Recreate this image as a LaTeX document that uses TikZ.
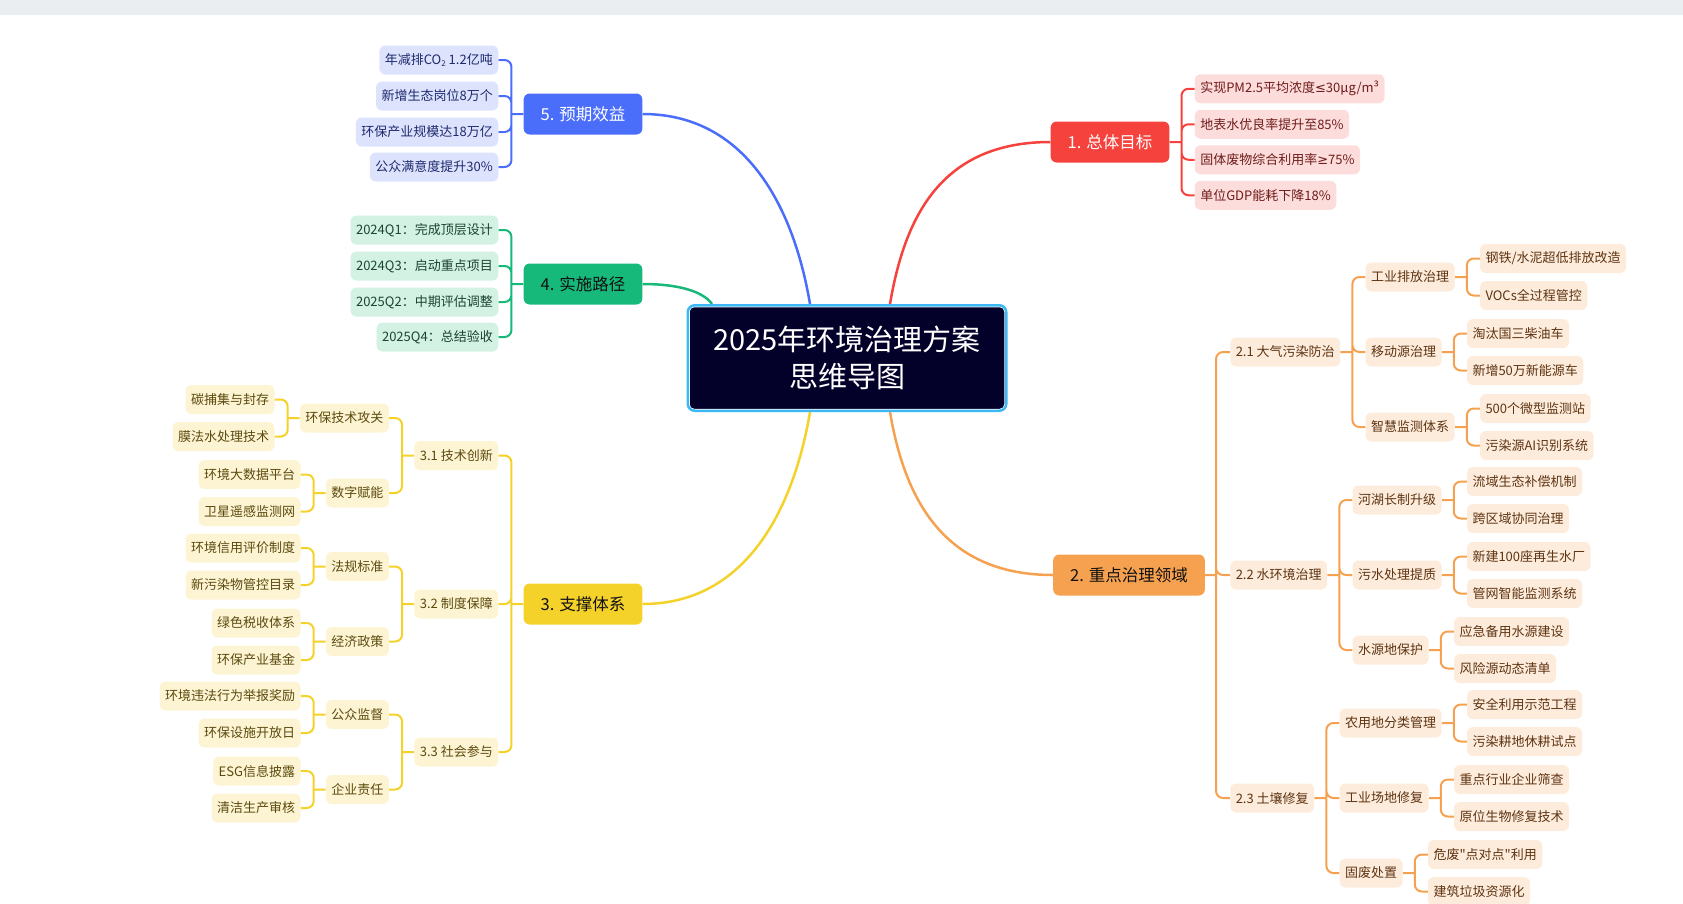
\documentclass[tikz,border=0pt]{standalone}
\usepackage{fontspec}
\setmainfont{Noto Sans CJK SC}
\newfontfamily\plainfont{Noto Sans CJK SC}
\newfontfamily\symfont{DejaVu Sans}
\usepackage{tikz}
\usetikzlibrary{
  positioning,
  fit,
  backgrounds,
  calc
}
\definecolor{RootNavy}{RGB}{3,0,42}
\definecolor{RootRing}{RGB}{60,184,245}
\definecolor{BarGray}{RGB}{235,238,241}
\definecolor{RedMain}{RGB}{246,66,60}
\definecolor{RedSoft}{RGB}{253,221,219}
\definecolor{RedInk}{RGB}{110,28,28}
\definecolor{OrgMain}{RGB}{246,161,80}
\definecolor{OrgSoft}{RGB}{253,236,220}
\definecolor{OrgInk}{RGB}{94,52,18}
\definecolor{YelMain}{RGB}{245,210,42}
\definecolor{YelSoft}{RGB}{252,244,211}
\definecolor{YelInk}{RGB}{92,74,14}
\definecolor{GrnMain}{RGB}{22,185,121}
\definecolor{GrnSoft}{RGB}{211,242,228}
\definecolor{GrnInk}{RGB}{27,69,48}
\definecolor{BluMain}{RGB}{75,110,250}
\definecolor{BluSoft}{RGB}{221,227,252}
\definecolor{BluInk}{RGB}{30,42,110}
\definecolor{TopicInk}{RGB}{17,17,17}
\newcommand{\cotwo}{CO{\fontsize{8}{8}\selectfont\raisebox{-2pt}{2}}}
\newcommand{\sq}{{\plainfont"}}
\newcommand{\lesym}{{\symfont≤}}
\newcommand{\gesym}{{\symfont≥}}
\tikzset{
  %%── 中心主题 ──────────────────────────────
  root/.style = {
    rectangle, rounded corners = 5pt,
    fill = RootNavy, draw = white, line width = 1.5pt, text = white,
    minimum width = 316pt, minimum height = 103pt,
    align = center, font = \fontsize{29}{37}\selectfont
  },
  rootring/.style = {
    rectangle, rounded corners = 7pt,
    draw = RootRing, line width = 2.5pt, inner sep = 0.5pt
  },
  %%── 一级分支 ──────────────────────────────
  topic/.style = {
    rectangle, rounded corners = 6pt,
    minimum height = 41pt, inner xsep = 17pt,
    font = \fontsize{16.5}{20}\selectfont
  },
  topR/.style = {topic, fill = RedMain, text = white},
  topO/.style = {topic, fill = OrgMain, text = TopicInk},
  topY/.style = {topic, fill = YelMain, text = TopicInk},
  topG/.style = {topic, fill = GrnMain, text = TopicInk},
  topB/.style = {topic, fill = BluMain, text = white},
  %%── 子节点 ────────────────────────────────
  leaf/.style = {
    rectangle, rounded corners = 6pt,
    minimum height = 29pt, inner xsep = 5.5pt,
    font = \fontsize{13}{15}\selectfont
  },
  leafR/.style = {leaf, fill = RedSoft, text = RedInk},
  leafO/.style = {leaf, fill = OrgSoft, text = OrgInk},
  leafY/.style = {leaf, fill = YelSoft, text = YelInk},
  leafG/.style = {leaf, fill = GrnSoft, text = GrnInk},
  leafB/.style = {leaf, fill = BluSoft, text = BluInk},
  %%── 连线 ──────────────────────────────────
  mainln/.style = {line width = 2.5pt, draw = #1},
  brk/.style    = {line width = 2pt, rounded corners = 7pt, draw = #1},
}

\begin{document}
\begin{tikzpicture}[x = 1pt, y = -1pt, node distance = 25pt]
  \useasboundingbox (0,0) rectangle (1683,903);
  \fill[BarGray] (0,0) rectangle (1683,15);

  %% ── 中心主题 ────────────────────────────────
  \node[root] (root) at (847,358) {2025年环境治理方案\\思维导图};
  \node[rootring, fit=(root)] (rootF) {};

  %% ── 一级分支 ────────────────────────────────
  \node[topR] (g1) at (1110,142) {1. 总体目标};
  \node[topO] (g2) at (1129,575) {2. 重点治理领域};
  \node[topY] (g3) at (583,604)  {3. 支撑体系};
  \node[topG] (g4) at (583,284)  {4. 实施路径};
  \node[topB] (g5) at (583,114)  {5. 预期效益};

  %% ── 1. 总体目标 ─────────────────────────────
  \node[leafR, right=of g1, yshift=53.25pt]  (g1a) {实现PM2.5平均浓度\lesym{}30μg/m³};
  \node[leafR, right=of g1, yshift=17.75pt]  (g1b) {地表水优良率提升至85\%};
  \node[leafR, right=of g1, yshift=-17.75pt] (g1c) {固体废物综合利用率\gesym{}75\%};
  \node[leafR, right=of g1, yshift=-53.25pt] (g1d) {单位GDP能耗下降18\%};

  %% ── 2. 重点治理领域 ─────────────────────────
  \node[leafO, right=of g2, yshift=223pt]  (g2a) {2.1 大气污染防治};
  \node[leafO, right=of g2]                (g2b) {2.2 水环境治理};
  \node[leafO, right=of g2, yshift=-223pt] (g2c) {2.3 土壤修复};

  \node[leafO, right=of g2a, yshift=75pt]  (g2a1) {工业排放治理};
  \node[leafO, right=of g2a]               (g2a2) {移动源治理};
  \node[leafO, right=of g2a, yshift=-75pt] (g2a3) {智慧监测体系};
  \node[leafO, right=of g2b, yshift=75pt]  (g2b1) {河湖长制升级};
  \node[leafO, right=of g2b]               (g2b2) {污水处理提质};
  \node[leafO, right=of g2b, yshift=-75pt] (g2b3) {水源地保护};
  \node[leafO, right=of g2c, yshift=75pt]  (g2c1) {农用地分类管理};
  \node[leafO, right=of g2c]               (g2c2) {工业场地修复};
  \node[leafO, right=of g2c, yshift=-75pt] (g2c3) {固废处置};

  \node[leafO, right=of g2a1, yshift=18.5pt]  (g2a1a) {钢铁/水泥超低排放改造};
  \node[leafO, right=of g2a1, yshift=-18.5pt] (g2a1b) {VOCs全过程管控};
  \node[leafO, right=of g2a2, yshift=18.5pt]  (g2a2a) {淘汰国三柴油车};
  \node[leafO, right=of g2a2, yshift=-18.5pt] (g2a2b) {新增50万新能源车};
  \node[leafO, right=of g2a3, yshift=18.5pt]  (g2a3a) {500个微型监测站};
  \node[leafO, right=of g2a3, yshift=-18.5pt] (g2a3b) {污染源AI识别系统};
  \node[leafO, right=of g2b1, yshift=18.5pt]  (g2b1a) {流域生态补偿机制};
  \node[leafO, right=of g2b1, yshift=-18.5pt] (g2b1b) {跨区域协同治理};
  \node[leafO, right=of g2b2, yshift=18.5pt]  (g2b2a) {新建100座再生水厂};
  \node[leafO, right=of g2b2, yshift=-18.5pt] (g2b2b) {管网智能监测系统};
  \node[leafO, right=of g2b3, yshift=18.5pt]  (g2b3a) {应急备用水源建设};
  \node[leafO, right=of g2b3, yshift=-18.5pt] (g2b3b) {风险源动态清单};
  \node[leafO, right=of g2c1, yshift=18.5pt]  (g2c1a) {安全利用示范工程};
  \node[leafO, right=of g2c1, yshift=-18.5pt] (g2c1b) {污染耕地休耕试点};
  \node[leafO, right=of g2c2, yshift=18.5pt]  (g2c2a) {重点行业企业筛查};
  \node[leafO, right=of g2c2, yshift=-18.5pt] (g2c2b) {原位生物修复技术};
  \node[leafO, right=of g2c3, yshift=18.5pt]  (g2c3a) {危废\sq{}点对点\sq{}利用};
  \node[leafO, right=of g2c3, yshift=-18.5pt] (g2c3b) {建筑垃圾资源化};

  %% ── 3. 支撑体系 ─────────────────────────────
  \node[leafY, left=of g3, yshift=148.5pt] (g3a) {3.1 技术创新};
  \node[leafY, left=of g3]                 (g3b) {3.2 制度保障};
  \node[leafY, left=of g3, yshift=-148pt]  (g3c) {3.3 社会参与};

  \node[leafY, left=of g3a, yshift=37.5pt]  (g3a1) {环保技术攻关};
  \node[leafY, left=of g3a, yshift=-37.5pt] (g3a2) {数字赋能};
  \node[leafY, left=of g3b, yshift=37.5pt]  (g3b1) {法规标准};
  \node[leafY, left=of g3b, yshift=-37.5pt] (g3b2) {经济政策};
  \node[leafY, left=of g3c, yshift=37.5pt]  (g3c1) {公众监督};
  \node[leafY, left=of g3c, yshift=-37.5pt] (g3c2) {企业责任};

  \node[leafY, left=of g3a1, yshift=18.5pt]  (g3a1a) {碳捕集与封存};
  \node[leafY, left=of g3a1, yshift=-18.5pt] (g3a1b) {膜法水处理技术};
  \node[leafY, left=of g3a2, yshift=18.5pt]  (g3a2a) {环境大数据平台};
  \node[leafY, left=of g3a2, yshift=-18.5pt] (g3a2b) {卫星遥感监测网};
  \node[leafY, left=of g3b1, yshift=18.5pt]  (g3b1a) {环境信用评价制度};
  \node[leafY, left=of g3b1, yshift=-18.5pt] (g3b1b) {新污染物管控目录};
  \node[leafY, left=of g3b2, yshift=18.5pt]  (g3b2a) {绿色税收体系};
  \node[leafY, left=of g3b2, yshift=-18.5pt] (g3b2b) {环保产业基金};
  \node[leafY, left=of g3c1, yshift=18.5pt]  (g3c1a) {环境违法行为举报奖励};
  \node[leafY, left=of g3c1, yshift=-18.5pt] (g3c1b) {环保设施开放日};
  \node[leafY, left=of g3c2, yshift=18.5pt]  (g3c2a) {ESG信息披露};
  \node[leafY, left=of g3c2, yshift=-18.5pt] (g3c2b) {清洁生产审核};

  %% ── 4. 实施路径 ─────────────────────────────
  \node[leafG, left=of g4, yshift=54pt]  (g4a) {2024Q1：完成顶层设计};
  \node[leafG, left=of g4, yshift=18pt]  (g4b) {2024Q3：启动重点项目};
  \node[leafG, left=of g4, yshift=-18pt] (g4c) {2025Q2：中期评估调整};
  \node[leafG, left=of g4, yshift=-53pt] (g4d) {2025Q4：总结验收};

  %% ── 5. 预期效益 ─────────────────────────────
  \node[leafB, left=of g5, yshift=54pt]  (g5a) {年减排\cotwo{} 1.2亿吨};
  \node[leafB, left=of g5, yshift=18pt]  (g5b) {新增生态岗位8万个};
  \node[leafB, left=of g5, yshift=-18pt] (g5c) {环保产业规模达18万亿};
  \node[leafB, left=of g5, yshift=-53pt] (g5d) {公众满意度提升30\%};

  \begin{scope}[on background layer]
    %% ── 中心 → 一级分支（曲线）──────────────
    \draw[mainln=RedMain] ([xshift=43pt]rootF.north)
      .. controls +(15,-89) and +(-108,0) .. (g1.west);
    \draw[mainln=OrgMain] ([xshift=43pt]rootF.south)
      .. controls +(15,89) and +(-108,0) .. (g2.west);
    \draw[mainln=YelMain] ([xshift=-37pt]rootF.south)
      .. controls +(-15,89) and +(108,0) .. (g3.east);
    \draw[mainln=GrnMain] (g4.east)
      .. controls +(32,0) and +(-10,-14) .. ([xshift=-135pt]rootF.north);
    \draw[mainln=BluMain] ([xshift=-37pt]rootF.north)
      .. controls +(-15,-89) and +(108,0) .. (g5.east);

    %% ── 右侧括号连线 ─────────────────────────
    \draw[brk=RedMain] (g1.east) -- ++(12,0) coordinate (s)
      foreach \c in {a,b,c,d} {(s) |- (g1\c.west)};
    \draw[brk=OrgMain] (g2.east) -- ++(11,0) coordinate (s)
      foreach \c in {a,b,c} {(s) |- (g2\c.west)};
    \foreach \p in {g2a,g2b,g2c}
      \draw[brk=OrgMain] (\p.east) -- ++(12,0) coordinate (s)
        foreach \c in {1,2,3} {(s) |- (\p\c.west)};
    \foreach \p in {g2a1,g2a2,g2a3,g2b1,g2b2,g2b3,g2c1,g2c2,g2c3}
      \draw[brk=OrgMain] (\p.east) -- ++(12,0) coordinate (s)
        foreach \c in {a,b} {(s) |- (\p\c.west)};

    %% ── 左侧括号连线 ─────────────────────────
    \draw[brk=YelMain] (g3.west) -- ++(-12,0) coordinate (s)
      foreach \c in {a,b,c} {(s) |- (g3\c.east)};
    \foreach \p in {g3a,g3b,g3c}
      \draw[brk=YelMain] (\p.west) -- ++(-12,0) coordinate (s)
        foreach \c in {1,2} {(s) |- (\p\c.east)};
    \foreach \p in {g3a1,g3a2,g3b1,g3b2,g3c1,g3c2}
      \draw[brk=YelMain] (\p.west) -- ++(-12,0) coordinate (s)
        foreach \c in {a,b} {(s) |- (\p\c.east)};
    \draw[brk=GrnMain] (g4.west) -- ++(-12,0) coordinate (s)
      foreach \c in {a,b,c,d} {(s) |- (g4\c.east)};
    \draw[brk=BluMain] (g5.west) -- ++(-12,0) coordinate (s)
      foreach \c in {a,b,c,d} {(s) |- (g5\c.east)};
  \end{scope}

\end{tikzpicture}
\end{document}
